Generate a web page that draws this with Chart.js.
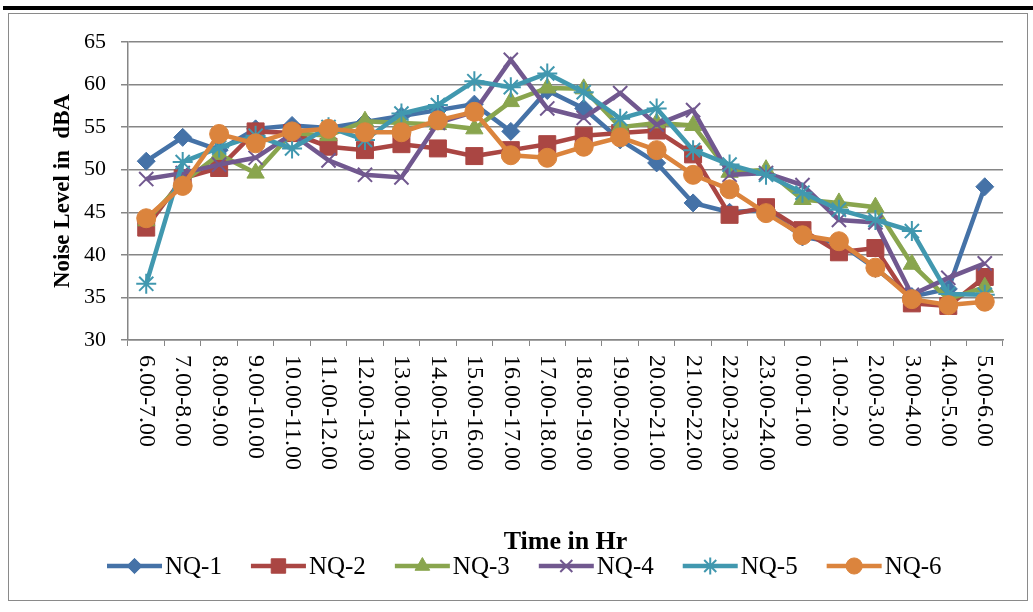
<!DOCTYPE html>
<html><head><meta charset="utf-8">
<script src="https://cdn.jsdelivr.net/npm/chart.js@4.4.0/dist/chart.umd.min.js"></script>
<style>
html,body{margin:0;padding:0;background:#fff;width:1033px;height:612px;overflow:hidden;}
#topline{position:absolute;left:3px;top:6px;width:1030px;height:4px;background:#000;}
#frame{position:absolute;left:8px;top:13px;width:1020px;height:588px;border:1px solid #8a8a8a;box-sizing:border-box;}
#wrap{position:absolute;left:0;top:0;width:1033px;height:612px;}
</style></head>
<body>
<div id="topline"></div><div id="frame"></div>
<div id="wrap"><canvas id="c" width="1033" height="612"></canvas></div>
<script>
const categories = ["6.00-7.00","7.00-8.00","8.00-9.00","9.00-10.00","10.00-11.00","11.00-12.00","12.00-13.00","13.00-14.00","14.00-15.00","15.00-16.00","16.00-17.00","17.00-18.00","18.00-19.00","19.00-20.00","20.00-21.00","21.00-22.00","22.00-23.00","23.00-24.00","0.00-1.00","1.00-2.00","2.00-3.00","3.00-4.00","4.00-5.00","5.00-6.00"];
const seriesNames = ["NQ-1","NQ-2","NQ-3","NQ-4","NQ-5","NQ-6"];
const nq1 = [51.0,53.8,52.3,54.8,55.2,54.9,55.6,56.3,57.0,57.7,54.5,59.3,57.2,53.5,50.8,46.1,45.0,45.3,42.1,41.4,38.4,35.1,36.0,48.0];
const nq2 = [43.2,49.0,50.2,54.5,54.3,52.7,52.3,53.0,52.5,51.6,52.3,53.0,54.0,54.3,54.6,51.8,44.7,45.6,42.9,40.3,40.8,34.3,34.0,37.4];
const nq3 = [44.0,48.5,51.8,49.6,54.3,54.0,55.7,55.5,55.3,54.8,58.0,59.6,59.5,55.0,55.5,55.2,49.7,50.0,46.5,46.1,45.6,38.9,34.8,36.2];
const nq4 = [48.9,49.6,50.6,51.4,54.2,51.1,49.4,49.1,55.5,56.8,62.9,57.2,56.1,59.0,55.3,57.0,49.4,49.6,48.2,44.1,43.8,35.3,37.3,39.0];
const nq5 = [36.6,50.9,52.6,54.0,52.5,55.0,53.5,56.6,57.6,60.4,59.7,61.3,59.1,56.0,57.2,52.3,50.6,49.4,47.3,45.3,44.1,42.8,35.4,35.3];
const nq6 = [44.3,48.1,54.2,53.1,54.5,54.8,54.4,54.4,55.8,56.8,51.7,51.4,52.7,53.8,52.3,49.4,47.7,44.9,42.3,41.6,38.5,34.8,34.1,34.5];
const yMin = 30, yMax = 65, yStep = 5;

const colors = ["#4572A7","#AA4643","#89A54E","#71588F","#4198AF","#DB843D"];
const styles = ["rectRot","rect","triangle","crossRot","star","circle"];
const radii  = [9,12,10,10,10,9.5];
const ptBorder = [1,1,1,2,2,1];
const allData = [nq1,nq2,nq3,nq4,nq5,nq6];
const SERIF = '"Liberation Serif","Times New Roman",serif';

const datasets = allData.map((d,i)=>({
  label: seriesNames[i],
  data: d,
  borderColor: colors[i],
  backgroundColor: colors[i],
  borderWidth: 4.5,
  pointStyle: styles[i],
  pointRadius: radii[i],
  pointBorderWidth: ptBorder[i],
  pointBackgroundColor: colors[i],
  pointBorderColor: colors[i],
  tension: 0,
  order: 6 - i
}));

const xLabelPlugin = {
  id: 'xLabels',
  afterDraw(chart){
    const ctx = chart.ctx, xs = chart.scales.x, area = chart.chartArea;
    ctx.save();
    ctx.fillStyle = '#000';
    ctx.font = '24px ' + SERIF;
    ctx.textAlign = 'left';
    ctx.textBaseline = 'middle';
    categories.forEach((c,i)=>{
      const x = xs.getPixelForValue(i);
      ctx.save();
      ctx.translate(x, area.bottom + 15);
      ctx.rotate(Math.PI/2);
      ctx.fillText(c, 0, 0);
      ctx.restore();
    });
    ctx.restore();
  }
};

const legendPlugin = {
  id: 'customLegend',
  afterDraw(chart){
    const ctx = chart.ctx;
    const y = 566;
    let x = 107;
    ctx.save();
    ctx.font = '25px ' + SERIF;
    ctx.textBaseline = 'middle';
    ctx.textAlign = 'left';
    chart.data.datasets.forEach((ds)=>{
      const lineLen = 55;
      ctx.strokeStyle = ds.borderColor;
      ctx.lineWidth = 4.5;
      ctx.beginPath();
      ctx.moveTo(x, y); ctx.lineTo(x+lineLen, y); ctx.stroke();
      ctx.fillStyle = ds.pointBackgroundColor;
      ctx.strokeStyle = ds.pointBorderColor;
      ctx.lineWidth = ds.pointBorderWidth;
      Chart.helpers.drawPoint(ctx, {pointStyle: ds.pointStyle, radius: ds.pointRadius*0.85, borderWidth: ds.pointBorderWidth, rotation: 0}, x+lineLen/2, y);
      ctx.fillStyle = '#000';
      ctx.fillText(ds.label, x+lineLen+3, y+1);
      const w = ctx.measureText(ds.label).width;
      x += lineLen + 3 + w + 29;
    });
    ctx.restore();
  }
};

new Chart(document.getElementById('c'), {
  type: 'line',
  data: { labels: categories, datasets },
  options: {
    responsive: false,
    devicePixelRatio: 1,
    animation: false,
    layout: { padding: { left: 49, top: 42, right: 30, bottom: 54.4 } },
    plugins: { legend: { display: false }, tooltip: { enabled: false } },
    scales: {
      x: {
        type: 'category',
        offset: true,
        grid: { display: true, drawOnChartArea: false, drawTicks: true, tickLength: 6, color: '#868686', lineWidth: 1, offset: true },
        border: { display: true, color: '#868686', width: 1.5 },
        ticks: { display: false },
        title: { display: true, text: 'Time in Hr', color: '#000', padding: 0, font: { family: SERIF, size: 26, weight: 'bold' } },
        afterFit(s){ s.height = 217.6; }
      },
      y: {
        min: yMin, max: yMax,
        ticks: { stepSize: yStep, color: '#000', padding: 15, font: { family: SERIF, size: 22 } },
        grid: { color: '#868686', lineWidth: 1.5, tickLength: 7 },
        border: { display: true, color: '#868686', width: 1.5 },
        title: { display: true, text: 'Noise Level in  dBA', color: '#000', padding: 0, font: { family: SERIF, size: 23, weight: 'bold' } },
        afterFit(s){ s.width = 79; }
      }
    }
  },
  plugins: [xLabelPlugin, legendPlugin]
});
</script>
</body></html>
